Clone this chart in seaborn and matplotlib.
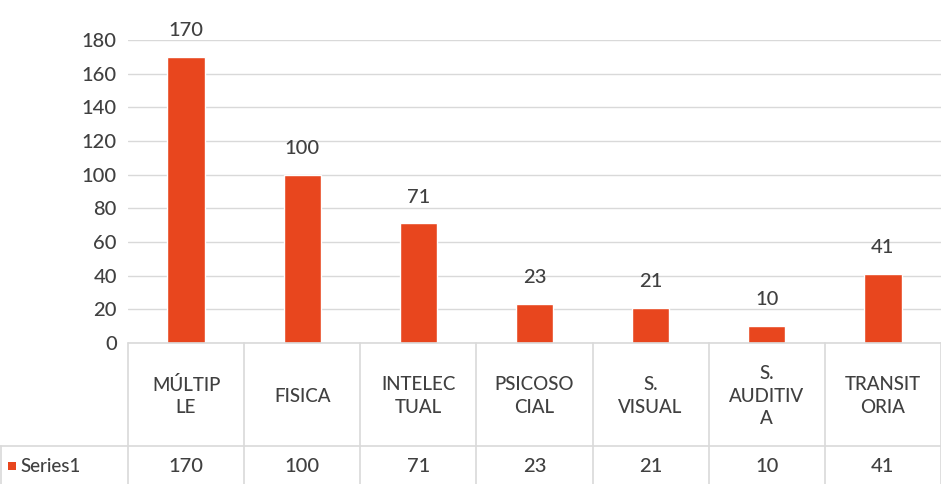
import matplotlib
matplotlib.use('Agg')
import matplotlib.pyplot as plt
import matplotlib.transforms as mtransforms
import seaborn as sns

categories = ['MÚLTIP\nLE', 'FISICA', 'INTELEC\nTUAL', 'PSICOSO\nCIAL',
              'S.\nVISUAL', 'S.\nAUDITIV\nA', 'TRANSIT\nORIA']
values = [170, 100, 71, 23, 21, 10, 41]
series_name = 'Series1'
y_ticks = [0, 20, 40, 60, 80, 100, 120, 140, 160, 180]

bar_color = '#E8461E'
text_color = '#404040'
line_color = '#D9D9D9'

sns.set_style('white')
plt.rcParams['font.family'] = ['Lato', 'DejaVu Sans']

W, H = 941, 484
fig = plt.figure(figsize=(W / 100, H / 100), dpi=100)
ax = fig.add_axes([128 / W, (H - 343) / H, 1 - 128 / W, (343 - 40) / H])

x_pos = list(range(len(categories)))
sns.barplot(x=x_pos, y=values, color=bar_color, width=0.32, ax=ax,
            saturation=1, native_scale=True)

ax.set_xlim(-0.5, len(categories) - 0.5)
ax.set_ylim(0, 180)
ax.set_yticks(y_ticks)
ax.set_xticks([])
ax.tick_params(axis='y', length=0, pad=8, labelsize=14.5, labelcolor=text_color)
for lbl in ax.get_yticklabels():
    lbl.set_fontweight('medium')
ax.set_xlabel('')
ax.set_ylabel('')
ax.grid(axis='y', color=line_color, lw=1)
ax.set_axisbelow(True)
for s in ax.spines.values():
    s.set_visible(False)

# data labels
for x, v in zip(x_pos, values):
    ax.annotate(str(v), (x, v), xytext=(0, 15), textcoords='offset points',
                ha='center', va='baseline', fontsize=14.5, color=text_color,
                fontweight='medium')

# data table under the chart
def py(p):
    # pixel row (from top) -> axes fraction
    return (343 - p) / (343 - 40)

trans = mtransforms.blended_transform_factory(ax.transData, ax.transAxes)
table_kw = dict(color=line_color, lw=1.2, clip_on=False)
ax.plot([-0.5, len(categories) - 0.5], [py(343), py(343)], transform=trans, **table_kw)
for i in range(len(categories) + 1):
    ax.plot([i - 0.5, i - 0.5], [py(343), py(484)], transform=trans, **table_kw)
fig.add_artist(plt.Line2D([0, 1], [(H - 446) / H, (H - 446) / H], color=line_color, lw=1.2))
fig.add_artist(plt.Line2D([1 / W, 1 / W], [(H - 446) / H, 0], color=line_color, lw=1.2))

for x, c, v in zip(x_pos, categories, values):
    ax.text(x, py(396), c, transform=trans, ha='center', va='center',
            multialignment='center', fontsize=13.5, color=text_color,
            linespacing=1.4, fontweight='medium')
    ax.text(x, py(466), str(v), transform=trans, ha='center', va='center',
            fontsize=14.5, color=text_color, fontweight='medium')

fig.add_artist(plt.Rectangle((8 / W, (H - 470) / H), 8 / W, 8 / H,
                             color=bar_color, lw=0))
fig.text(20 / W, (H - 466) / H, series_name, ha='left', va='center',
         fontsize=13.5, color=text_color, fontweight='medium')

fig.savefig('out.png', dpi=100)
